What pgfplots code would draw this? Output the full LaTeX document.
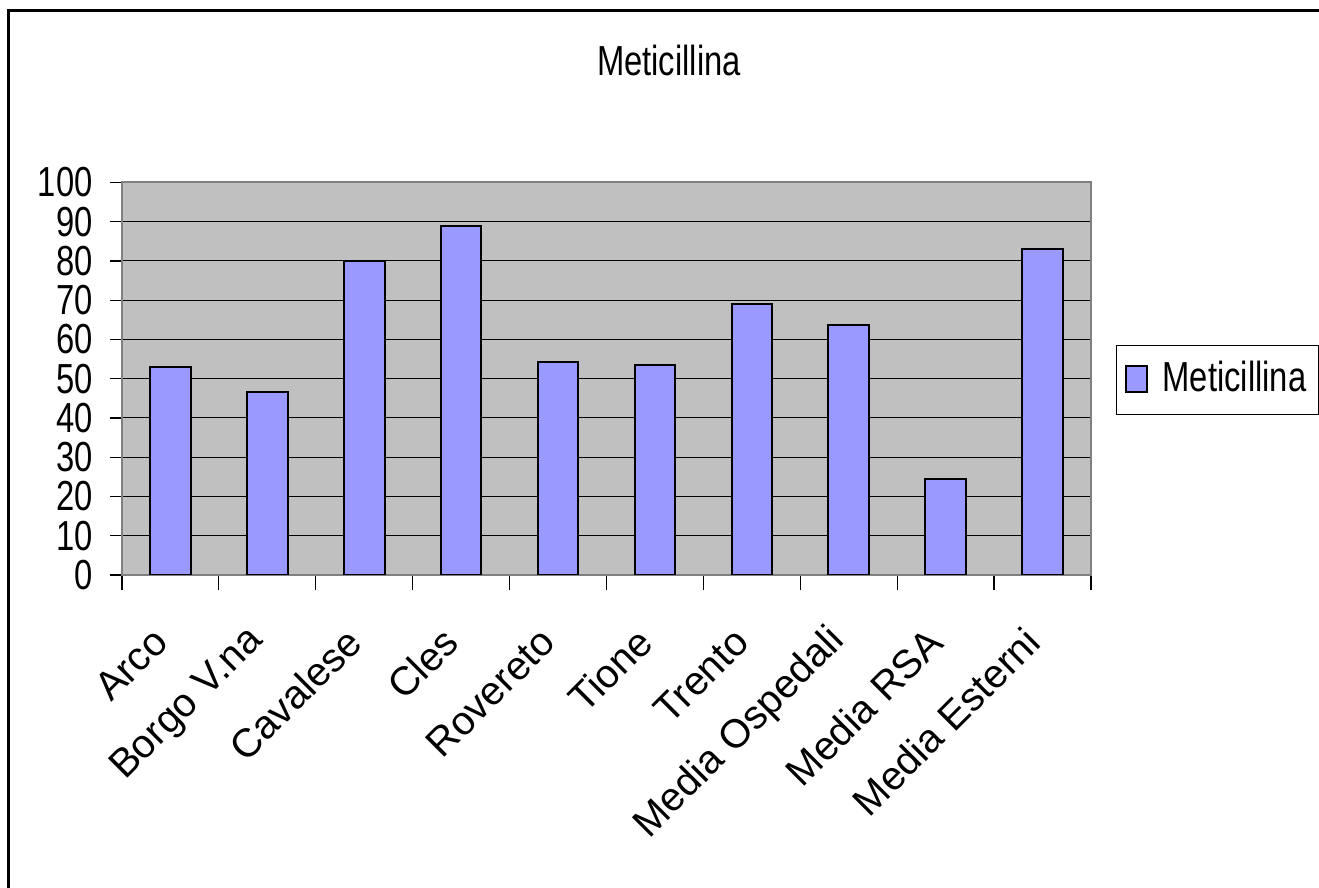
\documentclass[border=0pt]{standalone}
\usepackage{fontspec}
\setmainfont{Liberation Sans}[FakeStretch=0.78]
\newfontfamily\labelfont{Liberation Sans}
\usepackage{pgfplots}
\pgfplotsset{compat=1.18}
\definecolor{barfill}{HTML}{9999FF}
\definecolor{plotbg}{HTML}{C0C0C0}
\definecolor{axisgray}{HTML}{808080}
\begin{document}
\fontsize{21}{25}\selectfont
\begin{tikzpicture}
\useasboundingbox (0,0) rectangle (659.5pt,444pt);
% outer chart frame
\draw[line width=1.5pt] (4pt,-3pt) -- (4pt,438.5pt) -- (663pt,438.5pt);
\begin{axis}[
  at={(61pt,156.5pt)}, anchor=south west,
  scale only axis, width=484.5pt, height=196.3pt,
  ybar, bar width=0.42,
  xmin=-0.5, xmax=9.5, ymin=0, ymax=100,
  axis background/.style={fill=plotbg},
  axis line style={draw=axisgray, line width=1pt},
  /pgf/number format/assume math mode=true,
  tick align=outside,
  xtick pos=bottom, ytick pos=left,
  ytick={0,10,...,100},
  ytick style={black, line width=0.6pt},
  major tick length=6pt,
  ymajorgrids, major grid style={black, line width=0.5pt},
  xtick={0,...,9},
  xticklabels={Arco, Borgo V.na, Cavalese, Cles, Rovereto, Tione, Trento, Media Ospedali, Media RSA, Media Esterni},
  every major x tick/.append style={draw=none},
  minor xtick={-0.5,0.5,...,9.5},
  minor tick length=7.5pt,
  every minor x tick/.append style={draw=black, line width=0.6pt},
  xticklabel style={rotate=45, anchor=east, font=\labelfont\fontsize{20}{24}\selectfont},
  xticklabel shift=19pt,
  yticklabel style={anchor=east, xshift=-1.5pt},
  title=Meticillina,
  title style={at={(0.5645,1.279)}, anchor=center},
  legend style={at={(1.0258,0.586)}, anchor=north west, draw=black, line width=0.5pt,
    inner xsep=4pt, inner ysep=6pt, fill=white},
  legend image code/.code={\draw[fill=barfill, draw=black, line width=1pt] (0pt,-6pt) rectangle (10.5pt,7pt);
    \path (16pt,0pt);},
]
\addplot[fill=barfill, draw=black, line width=1pt] coordinates {
  (0,53) (1,46.7) (2,80) (3,89) (4,54.2) (5,53.4) (6,69) (7,63.8) (8,24.5) (9,83.1)
};
\addlegendentry{Meticillina}
\end{axis}
\end{tikzpicture}
\end{document}
